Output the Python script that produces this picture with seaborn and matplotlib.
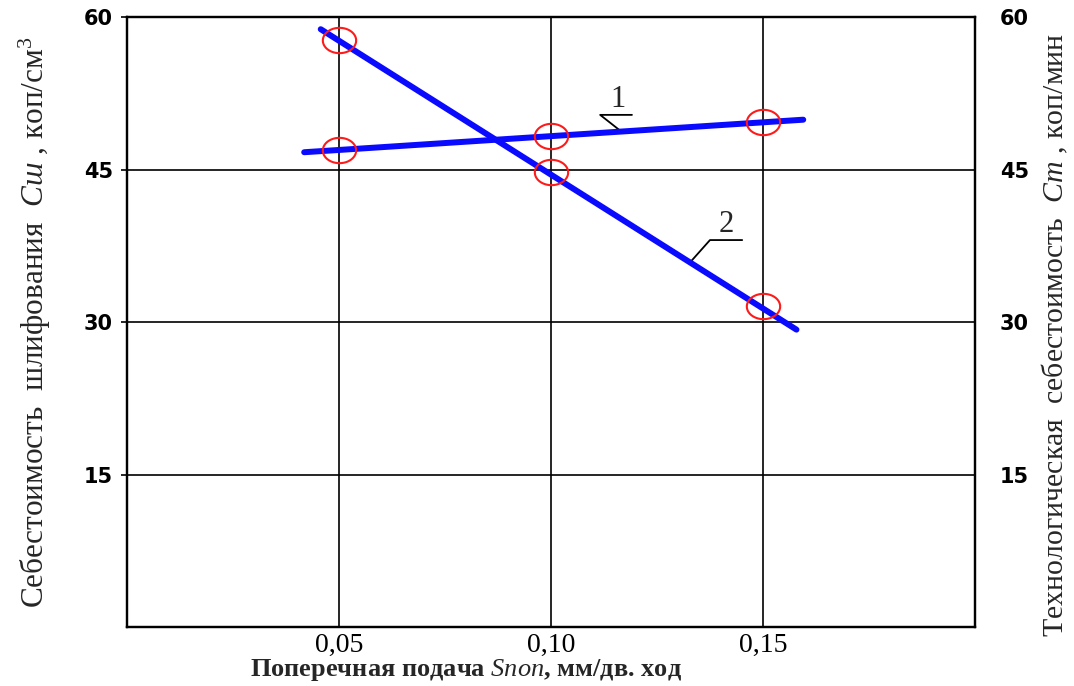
import matplotlib
matplotlib.use("Agg")
import matplotlib.pyplot as plt
import seaborn as sns
import numpy as np
import pandas as pd

# data
feed_ticks = [0.05, 0.10, 0.15]
feed_tick_labels = ["0,05", "0,10", "0,15"]
cost_ticks = [15, 30, 45, 60]

# line 1 - grinding cost (fitted line and measured points)
line1_x = [0.0418, 0.1595]
line1_y = [46.7, 49.9]
pts1_x = [0.05, 0.10, 0.15]
pts1_y = [46.95, 48.3, 49.7]

# line 2 - technological cost
line2_x = [0.0457, 0.1579]
line2_y = [58.8, 29.25]
pts2_x = [0.05, 0.10, 0.15]
pts2_y = [57.7, 44.8, 31.6]

# where the number callouts touch the lines
callout1_x = 0.1166
callout2_x = 0.1328

sns.set_style("white")
plt.rcParams["font.family"] = ["Liberation Serif", "DejaVu Sans"]
plt.rcParams["mathtext.fontset"] = "custom"
plt.rcParams["mathtext.rm"] = "Liberation Serif"
plt.rcParams["mathtext.it"] = "Liberation Serif:italic"
plt.rcParams["mathtext.bf"] = "Liberation Serif:bold"

fig = plt.figure(figsize=(10.74, 6.86), dpi=100)
ax = fig.add_axes([0.1182, 0.086, 0.7896, 0.8892])

df1 = pd.DataFrame({"x": line1_x, "y": line1_y})
df2 = pd.DataFrame({"x": line2_x, "y": line2_y})
sns.lineplot(data=df1, x="x", y="y", ax=ax, color="#0a0aff", linewidth=4.3, zorder=3)
sns.lineplot(data=df2, x="x", y="y", ax=ax, color="#0a0aff", linewidth=4.3, zorder=3)

t = np.linspace(0, 2 * np.pi, 64)
ellipse = np.column_stack([np.cos(t), 0.76 * np.sin(t)])
for px, py in [(pts1_x, pts1_y), (pts2_x, pts2_y)]:
    sns.lineplot(x=px, y=py, ax=ax, linestyle="none", marker=ellipse, markersize=24,
                 markerfacecolor="none", markeredgecolor="#ff1a1a", markeredgewidth=1.5,
                 color="#ff1a1a", zorder=4)

# callout 1
cy1 = np.interp(callout1_x, line1_x, line1_y)
ax.plot([callout1_x, callout1_x - 0.005, callout1_x + 0.0025],
        [cy1, cy1 + 1.64, cy1 + 1.64], color="black", linewidth=1.3, zorder=2)
ax.text(callout1_x - 0.0008, cy1 + 1.75, "1", fontsize=22, ha="center", va="bottom")

# callout 2
cy2 = np.interp(callout2_x, line2_x, line2_y)
ax.plot([callout2_x, callout2_x + 0.0047, callout2_x + 0.0123],
        [cy2, cy2 + 2.2, cy2 + 2.2], color="black", linewidth=1.3, zorder=2)
ax.text(callout2_x + 0.0085, cy2 + 2.3, "2", fontsize=22, ha="center", va="bottom")

ax.set_xlim(0, 0.2)
ax.set_ylim(0, 60)
ax.set_xticks(feed_ticks)
ax.set_xticklabels(feed_tick_labels, fontsize=20)
ax.set_yticks(cost_ticks)
ax.set_yticklabels([str(v) for v in cost_ticks], fontsize=15, fontweight="bold",
                   family="DejaVu Sans")
ax.grid(True, color="black", linewidth=1.2)
ax.tick_params(axis="y", direction="out", length=4, width=1.2, pad=6, colors="black")
ax.tick_params(axis="x", length=0, pad=4, colors="black")
for s in ax.spines.values():
    s.set_visible(True)
    s.set_color("black")
    s.set_linewidth(1.6)

ax.set_xlabel("Поперечная подача $\\mathit{Sпоп}$, мм/дв. ход", fontsize=19,
              fontweight="bold", va="top")
ax.xaxis.set_label_coords(0.40, -0.049)
ax.set_ylabel("Себестоимость  шлифования  $\\mathit{Cш}$ , коп/см$^3$",
              fontsize=22.5, va="center")
ax.yaxis.set_label_coords(-0.108, 0.5)

ax2 = ax.twinx()
ax2.set_ylim(0, 60)
ax2.set_yticks(cost_ticks)
ax2.set_yticklabels([str(v) for v in cost_ticks], fontsize=15, fontweight="bold",
                    family="DejaVu Sans")
ax2.tick_params(axis="y", length=0, pad=18, colors="black")
ax2.grid(False)
for s in ax2.spines.values():
    s.set_color("black")
    s.set_linewidth(1.6)
ax2.set_ylabel("Технологическая  себестоимость  $\\mathit{Cт}$ , коп/мин",
               fontsize=21.5, va="center")
ax2.yaxis.set_label_coords(1.094, 0.479)

fig.savefig("out.png", dpi=100, facecolor="white")
